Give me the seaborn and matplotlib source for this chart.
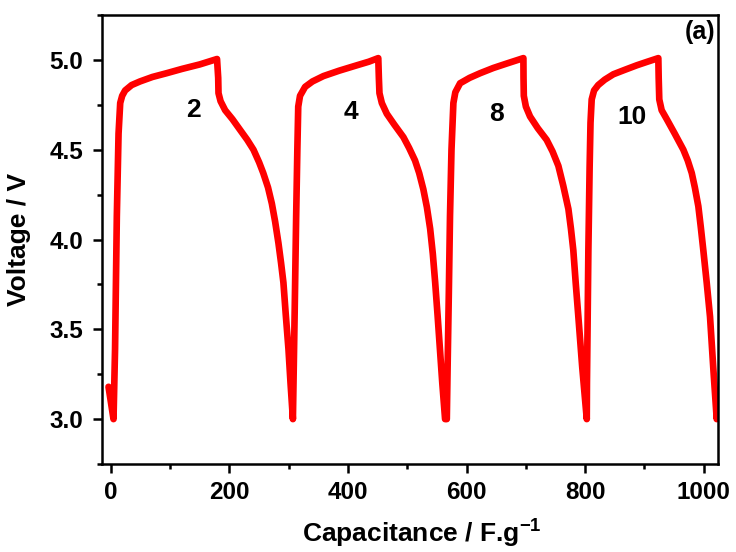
import numpy as np
import pandas as pd
import matplotlib
matplotlib.use("Agg")
import matplotlib.pyplot as plt
from matplotlib.ticker import MultipleLocator
import seaborn as sns

# ---- data (capacitance F/g, voltage V) ----
cap = [-4, 4.4, 7, 10, 12.9, 15.7, 19, 24, 35, 49, 70, 94, 120, 150, 179,
       181, 181.5, 185, 192.7, 205, 218, 230, 240.5, 250, 257, 265, 271.5, 277, 282.6, 287, 291, 295, 299.5, 303, 307,
       308, 310, 312.5, 314.5, 316, 319, 327.6, 340, 358.5, 385, 414.8, 435, 451,
       452, 453, 457, 465.4, 478, 493.4, 503, 513, 520, 527, 533, 538.5, 543, 547, 551, 555, 559, 563.7,
       566.6, 568, 570, 572, 574.5, 577.7, 581, 589, 605, 622.8, 645, 667.8, 695.8,
       696, 696.5, 700, 707, 720, 735, 745, 754.8, 763, 771.7, 776, 780, 784, 788.5, 795, 802.7,
       803, 804, 805.4, 807.5, 809, 811, 815, 822, 833, 847.5, 867, 887, 905, 923.4,
       924, 925, 929, 937.6, 951, 965.6, 973, 979.8, 985, 990.9, 995, 999.3, 1005, 1010.6, 1016, 1021.9, 1024]
volt = [3.18, 3.0, 3.39, 4.13, 4.59, 4.76, 4.80, 4.83, 4.86, 4.88, 4.905, 4.926, 4.95, 4.975, 5.005,
        4.90, 4.815, 4.77, 4.72, 4.67, 4.61, 4.555, 4.5, 4.43, 4.37, 4.29, 4.2, 4.10, 3.98, 3.87, 3.76, 3.58, 3.39, 3.2, 3.0,
        3.2, 3.6, 4.13, 4.5, 4.74, 4.80, 4.85, 4.88, 4.91, 4.94, 4.97, 4.99, 5.01,
        4.90, 4.815, 4.76, 4.70, 4.64, 4.57, 4.51, 4.44, 4.37, 4.28, 4.18, 4.06, 3.92, 3.76, 3.58, 3.39, 3.2, 3.0,
        3.0, 3.3, 3.7, 4.13, 4.5, 4.76, 4.82, 4.87, 4.90, 4.926, 4.955, 4.98, 5.01,
        4.90, 4.80, 4.74, 4.685, 4.62, 4.555, 4.49, 4.41, 4.30, 4.17, 4.06, 3.94, 3.76, 3.57, 3.29, 3.0,
        3.2, 3.5, 3.94, 4.4, 4.65, 4.78, 4.83, 4.86, 4.89, 4.92, 4.945, 4.97, 4.99, 5.01,
        4.90, 4.78, 4.72, 4.67, 4.59, 4.5, 4.44, 4.37, 4.29, 4.185, 4.07, 3.94, 3.76, 3.57, 3.29, 3.0, 3.15]

cycle_labels = ["2", "4", "8", "10"]
label_x = [139, 405, 650, 879]
label_y = [4.72, 4.71, 4.70, 4.68]

xticks = [0, 200, 400, 600, 800, 1000]
yticks = [3.0, 3.5, 4.0, 4.5, 5.0]

df = pd.DataFrame({"cap": cap, "volt": volt})

sns.set_style("ticks")
plt.rcParams["font.family"] = ["Liberation Sans", "DejaVu Sans"]
plt.rcParams["font.weight"] = "bold"
plt.rcParams["mathtext.fontset"] = "custom"
plt.rcParams["mathtext.rm"] = "Liberation Sans"
plt.rcParams["mathtext.bf"] = "Liberation Sans:bold"
for k in ["text.color", "axes.labelcolor", "xtick.color", "ytick.color", "axes.edgecolor"]:
    plt.rcParams[k] = "black"

fig = plt.figure(figsize=(7.36, 5.52), dpi=100)
ax = fig.add_axes([0.1386, 0.1594, 0.8369, 0.8134])

sns.lineplot(data=df, x="cap", y="volt", sort=False, estimator=None,
             color="#ff0000", linewidth=4.8, ax=ax)

ax.set_xlim(-15, 1024)
ax.set_ylim(2.75, 5.25)
ax.set_xticks(xticks)
ax.set_yticks(yticks)
ax.set_xticklabels([str(t) for t in xticks])
ax.set_yticklabels([f"{t:.1f}" for t in yticks])
ax.xaxis.set_minor_locator(MultipleLocator(100))
ax.yaxis.set_minor_locator(MultipleLocator(0.25))

for s in ax.spines.values():
    s.set_linewidth(1.8)
    s.set_color("black")
ax.tick_params(which="major", direction="out", length=6.5, width=1.8,
               labelsize=17.5, colors="black", top=False, right=False)
ax.tick_params(axis="y", which="major", pad=7)
ax.tick_params(axis="x", which="major", pad=6)
ax.tick_params(which="minor", direction="out", length=3.5, width=1.8,
               top=False, right=False)
for lab in ax.get_xticklabels() + ax.get_yticklabels():
    lab.set_fontweight("bold")

ax.set_xlabel(r"Capacitance / F.g$^{\mathbf{-1}}$", fontsize=19, fontweight="bold")
ax.set_ylabel("Voltage / V", fontsize=19, fontweight="bold")
ax.xaxis.set_label_coords(0.52, -0.117)
ax.yaxis.set_label_coords(-0.115, 0.5)

for t, xx, yy in zip(cycle_labels, label_x, label_y):
    ax.text(xx, yy, t, fontsize=19, fontweight="bold", ha="center", va="center")
ax.text(0.995, 0.99, "(a)", transform=ax.transAxes, fontsize=18,
        fontweight="bold", ha="right", va="top")

fig.savefig("out.png", dpi=100)
